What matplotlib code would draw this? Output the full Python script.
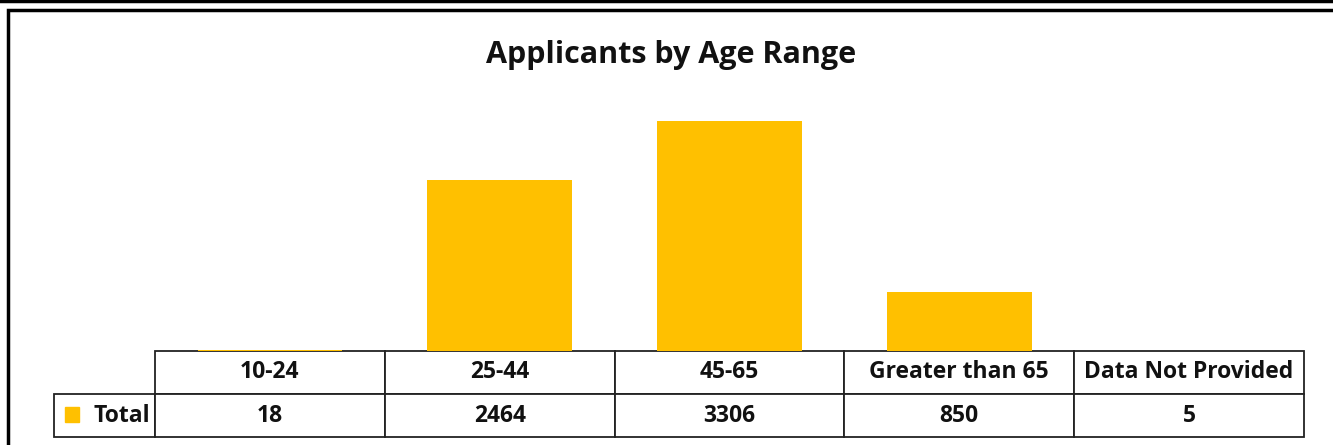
import matplotlib.pyplot as plt
from matplotlib.patches import Rectangle
from matplotlib.lines import Line2D

# data
categories = ["10-24", "25-44", "45-65", "Greater than 65", "Data Not Provided"]
totals = [18, 2464, 3306, 850, 5]
series_name = "Total"
title = "Applicants by Age Range"

bar_color = "#FFC000"
W, H = 1333, 445

plt.rcParams['font.family'] = ['Open Sans', 'DejaVu Sans']

fig = plt.figure(figsize=(W / 100, H / 100), dpi=100)

# plot area: x from 155 to 1304 px, baseline at 351 px
ax = fig.add_axes([155 / W, 94 / H, 1149 / W, 278 / H])
ax.bar(range(len(categories)), totals, width=0.63, color=bar_color)
ax.set_xlim(-0.5, len(categories) - 0.5)
ax.set_ylim(0, 4000)
ax.axis('off')

# data table under the bars
cell_text = [[""] + categories, [series_name] + [str(v) for v in totals]]
first_w = 101 / 1250
col_w = [first_w] + [(1 - first_w) / len(categories)] * len(categories)
tbl = ax.table(cellText=cell_text, colWidths=col_w, cellLoc='center',
               bbox=[-101 / 1149, -86 / 278, 1250 / 1149, 86 / 278])
tbl.auto_set_font_size(False)
for (r, c), cell in tbl.get_celld().items():
    cell.set_linewidth(1.3)
    cell.set_edgecolor('#222222')
    cell.get_text().set_fontsize(16.5)
    cell.get_text().set_fontweight('bold')
    cell.get_text().set_color('#111111')
    cell.PAD = 0.02
tbl[0, 0].visible_edges = ''
tbl[1, 0].get_text().set_horizontalalignment('right')
tbl[1, 0].PAD = 0.05

# legend key in the table
ax.add_patch(Rectangle((-90 / 1149, -71 / 278), 14 / 1149, 15 / 278,
                       transform=ax.transAxes, color=bar_color, clip_on=False))

fig.text(671 / W, 1 - 55 / H, title, ha='center', va='center',
         fontsize=22, fontweight='bold', color='#111111')

# outer chart frame (cropped)
fig.add_artist(Line2D([0, 1], [1 - 1 / H, 1 - 1 / H], color='black', lw=2.5))
fig.add_artist(Rectangle((8 / W, -0.1), 1.2, 1.1 - 10 / H, fill=False,
                         edgecolor='black', lw=2.5, transform=fig.transFigure))

fig.savefig("out.png", dpi=100)
